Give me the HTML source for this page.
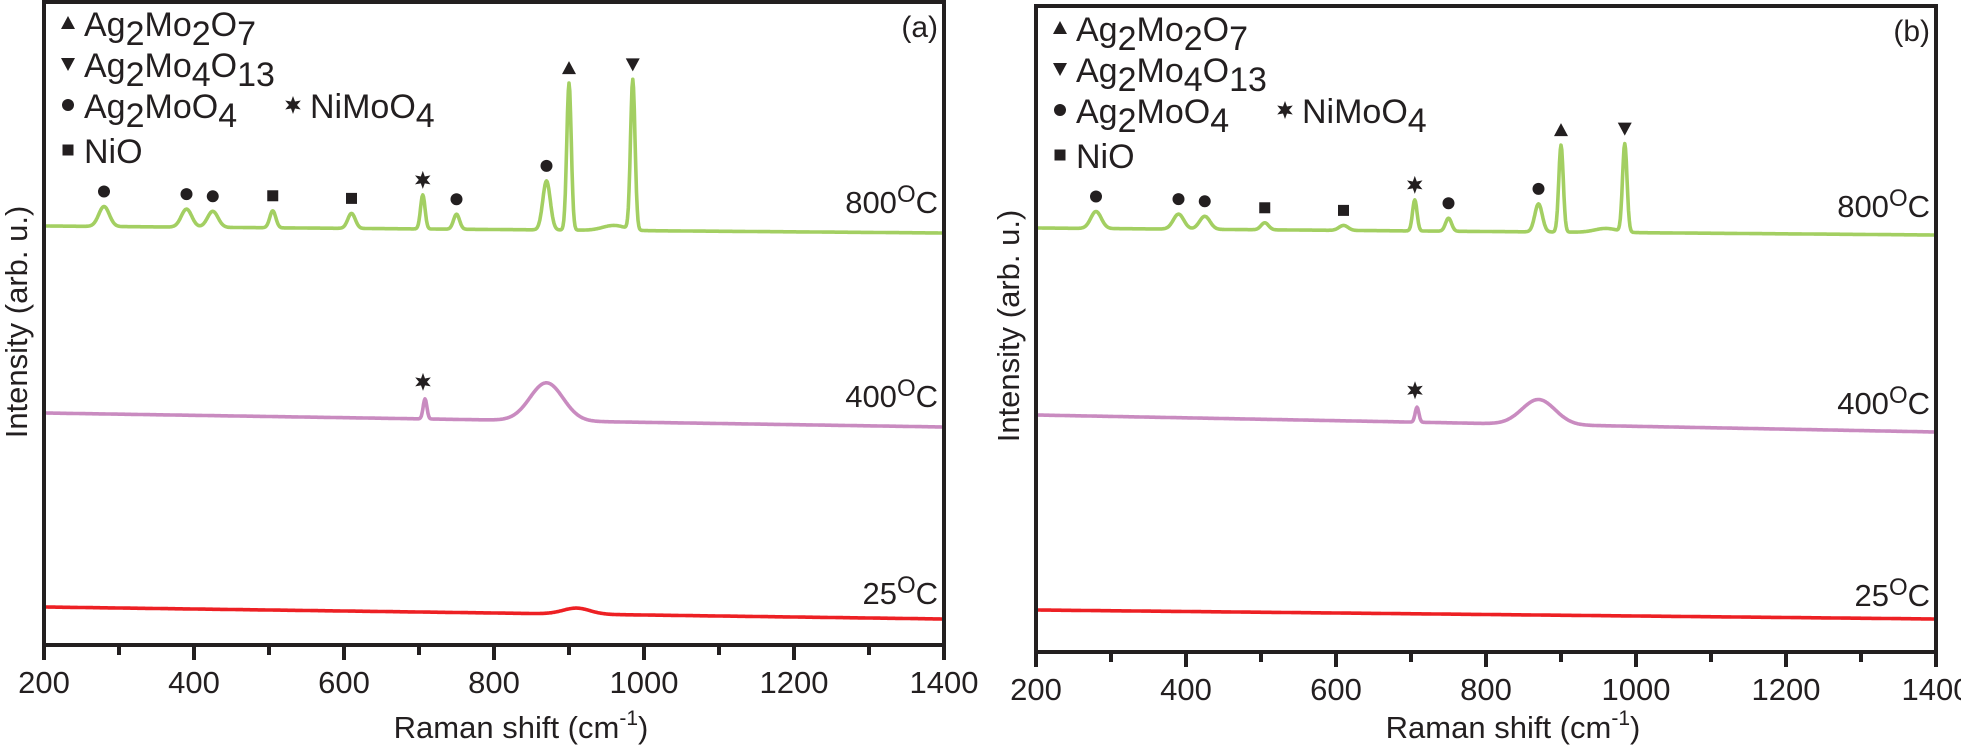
<!DOCTYPE html>
<html><head><meta charset="utf-8"><style>
html,body{margin:0;padding:0;background:#fff;}
svg{display:block;font-family:"Liberation Sans",sans-serif;}
</style></head><body>
<svg id="chart" width="1961" height="749" viewBox="0 0 1961 749" xmlns="http://www.w3.org/2000/svg"></svg>
<script>
// ---- data ----
const xTicks = [200,400,600,800,1000,1200,1400];
const xMinorTicks = [300,500,700,900,1100,1300];
const tempLabels = ["800","400","25"];
// panel (a) baselines (left,right) and peaks
const a800Base = [419,412];
const a800PeakPos = [280,390,425,505,610,705,750,870,900,985,960];
const a800PeakH   = [20,18,16,17,15,34,15,49,147,150,5];
const a800PeakW   = [7,7,7,4,5,3,4,5,3,3,15];
const a400Base = [232,218];
const a400PeakPos = [708,870];
const a400PeakH = [20,38];
const a400PeakW = [2.5,22];
const a25Base = [38,26];
const a25PeakPos = [910];
const a25PeakH = [6];
const a25PeakW = [18];
// panel (b)
const b800Base = [424,417];
const b800PeakPos = [280,390,425,505,610,705,750,870,900,985,960];
const b800PeakH   = [17,15,13,7,5,31,13,28,87,88,4];
const b800PeakW   = [7,7,7,5,6,3,4,5,3,3,15];
const b400Base = [237,220];
const b400PeakPos = [708,870];
const b400PeakH = [15,25];
const b400PeakW = [2.5,22];
const b25Base = [42,33];
const b25PeakPos = [];
const b25PeakH = [];
const b25PeakW = [];
// marker annotations (position, type)
const markPos  = [280,390,425,505,610,705,750,870,900,985];
const markType = ["circle","circle","circle","square","square","star","circle","circle","up","down"];
const star400Pos = [708];

const NS="http://www.w3.org/2000/svg";
const svg=document.getElementById('chart');
function mk(tag,attrs,parent){const e=document.createElementNS(NS,tag);for(const k in attrs)e.setAttribute(k,attrs[k]);(parent||svg).appendChild(e);return e;}

function spectrum(base,pos,h,w,x){
  let y=base[0]+(base[1]-base[0])*(x-200)/1200;
  for(let i=0;i<pos.length;i++){const d=(x-pos[i])/w[i];y+=h[i]*Math.exp(-0.5*d*d);}
  return y;
}

function drawMarker(g,type,cx,cy){
  let el;
  if(type==="circle") el=mk('circle',{cx:cx,cy:cy,r:6,fill:'#231f20'},g);
  else if(type==="square") el=mk('rect',{x:cx-5.5,y:cy-5.5,width:11,height:11,fill:'#231f20'},g);
  else if(type==="up") el=mk('polygon',{points:`${cx-7},${cy+6} ${cx+7},${cy+6} ${cx},${cy-7}`,fill:'#231f20'},g);
  else if(type==="down") el=mk('polygon',{points:`${cx-7},${cy-6} ${cx+7},${cy-6} ${cx},${cy+7}`,fill:'#231f20'},g);
  else { let p=[];for(let k=0;k<12;k++){const r=k%2?4:9;const a=-Math.PI/2+k*Math.PI/6;p.push((cx+r*Math.cos(a)).toFixed(1)+','+(cy+r*Math.sin(a)).toFixed(1));}
    el=mk('polygon',{points:p.join(' '),fill:'#231f20'},g);}
  
  
}

function panel(cfg){
  const g=mk('g',{});
  
  
  const L=cfg.left,R=cfg.left+900,T=cfg.top,B=cfg.bottom;
  const xs=v=>L+(v-200)/1200*(R-L);
  const ys=v=>B-v;
  const series=[[cfg.s800,'#a3cf62','800'],[cfg.s400,'#c98bc0','400'],[cfg.s25,'#ed2024','25']];
  series.forEach(s=>{
    const d=[];for(let x=200;x<=1400;x+=1){d.push((x===200?'M':'L')+xs(x).toFixed(1)+','+ys(spectrum(s[0][0],s[0][1],s[0][2],s[0][3],x)).toFixed(1));}
    const p=mk('path',{d:d.join(''),fill:'none',stroke:s[1],'stroke-width':3.6,'stroke-linejoin':'round'},g);
    
    
  });
  markPos.forEach((m,i)=>{
    const top=spectrum(cfg.s800[0],cfg.s800[1],cfg.s800[2],cfg.s800[3],m);
    drawMarker(g,markType[i],xs(m),ys(top)-15);
  });
  star400Pos.forEach(m=>{
    const top=spectrum(cfg.s400[0],cfg.s400[1],cfg.s400[2],cfg.s400[3],m);
    drawMarker(g,'star',xs(m)-2,ys(top)-17);
  });
  const f=mk('rect',{x:L,y:T,width:R-L,height:B-T,fill:'none',stroke:'#231f20','stroke-width':4},g);
  
  
  xTicks.forEach(t=>{
    const l=mk('line',{x1:xs(t),x2:xs(t),y1:B,y2:B+15,stroke:'#231f20','stroke-width':4},g);
    
    
    const tx=mk('text',{x:xs(t),y:B+48,'font-size':31,'text-anchor':'middle',fill:'#231f20'},g);
    tx.textContent=t;
    
    
  });
  xMinorTicks.forEach(t=>{
    const l=mk('line',{x1:xs(t),x2:xs(t),y1:B,y2:B+10,stroke:'#231f20','stroke-width':4},g);
    
    
  });
  const xt=mk('text',{x:L+477,y:738,'font-size':31,'text-anchor':'middle',fill:'#231f20'},g);
  xt.innerHTML='Raman shift (cm<tspan dy="-13" font-size="21">-1</tspan><tspan dy="13">)</tspan>';
  
  
  const yt=mk('text',{x:0,y:0,'font-size':31,'text-anchor':'middle',fill:'#231f20',transform:`translate(${L-17},${cfg.ytY}) rotate(-90)`},g);
  yt.textContent='Intensity (arb. u.)';
  
  
  const pl=mk('text',{x:R-6,y:T+35,'font-size':30,'text-anchor':'end',fill:'#231f20'},g);
  pl.textContent='('+cfg.id+')';
  
  
  tempLabels.forEach((t,i)=>{
    const tl=mk('text',{x:R-6,y:cfg.tempY[i],'font-size':31,'text-anchor':'end',fill:'#231f20'},g);
    tl.innerHTML=t+'<tspan dy="-11" font-size="24">O</tspan><tspan dy="11">C</tspan>';
    
    
  });
  const lx=cfg.left+24, ly=cfg.legendY;
  const rows=[['up','Ag<tspan dy="9">2</tspan><tspan dy="-9">Mo</tspan><tspan dy="9">2</tspan><tspan dy="-9">O</tspan><tspan dy="9">7</tspan>'],
    ['down','Ag<tspan dy="9">2</tspan><tspan dy="-9">Mo</tspan><tspan dy="9">4</tspan><tspan dy="-9">O</tspan><tspan dy="9">13</tspan>'],
    ['circle','Ag<tspan dy="9">2</tspan><tspan dy="-9">MoO</tspan><tspan dy="9">4</tspan>'],
    ['square','NiO']];
  const dy=[0,41,82,127];
  rows.forEach((r,i)=>{
    drawMarker(g,r[0],lx,ly+dy[i]-3);
    const t=mk('text',{x:lx+16,y:ly+dy[i]+10,'font-size':34,fill:'#231f20'},g);
    t.innerHTML=r[1];
    
    
  });
  drawMarker(g,'star',lx+225,ly+82-3);
  const t=mk('text',{x:lx+242,y:ly+82+10,'font-size':34,fill:'#231f20'},g);
  t.innerHTML='NiMoO<tspan dy="9">4</tspan>';
  
  
}

panel({id:'a',left:44,top:2,bottom:645,ytY:322,tempY:[213,407,604],legendY:26,
  s800:[a800Base,a800PeakPos,a800PeakH,a800PeakW],
  s400:[a400Base,a400PeakPos,a400PeakH,a400PeakW],
  s25:[a25Base,a25PeakPos,a25PeakH,a25PeakW]});
panel({id:'b',left:1036,top:6,bottom:652,ytY:326,tempY:[217,414,606],legendY:31,
  s800:[b800Base,b800PeakPos,b800PeakH,b800PeakW],
  s400:[b400Base,b400PeakPos,b400PeakH,b400PeakW],
  s25:[b25Base,b25PeakPos,b25PeakH,b25PeakW]});
</script>
</body></html>
